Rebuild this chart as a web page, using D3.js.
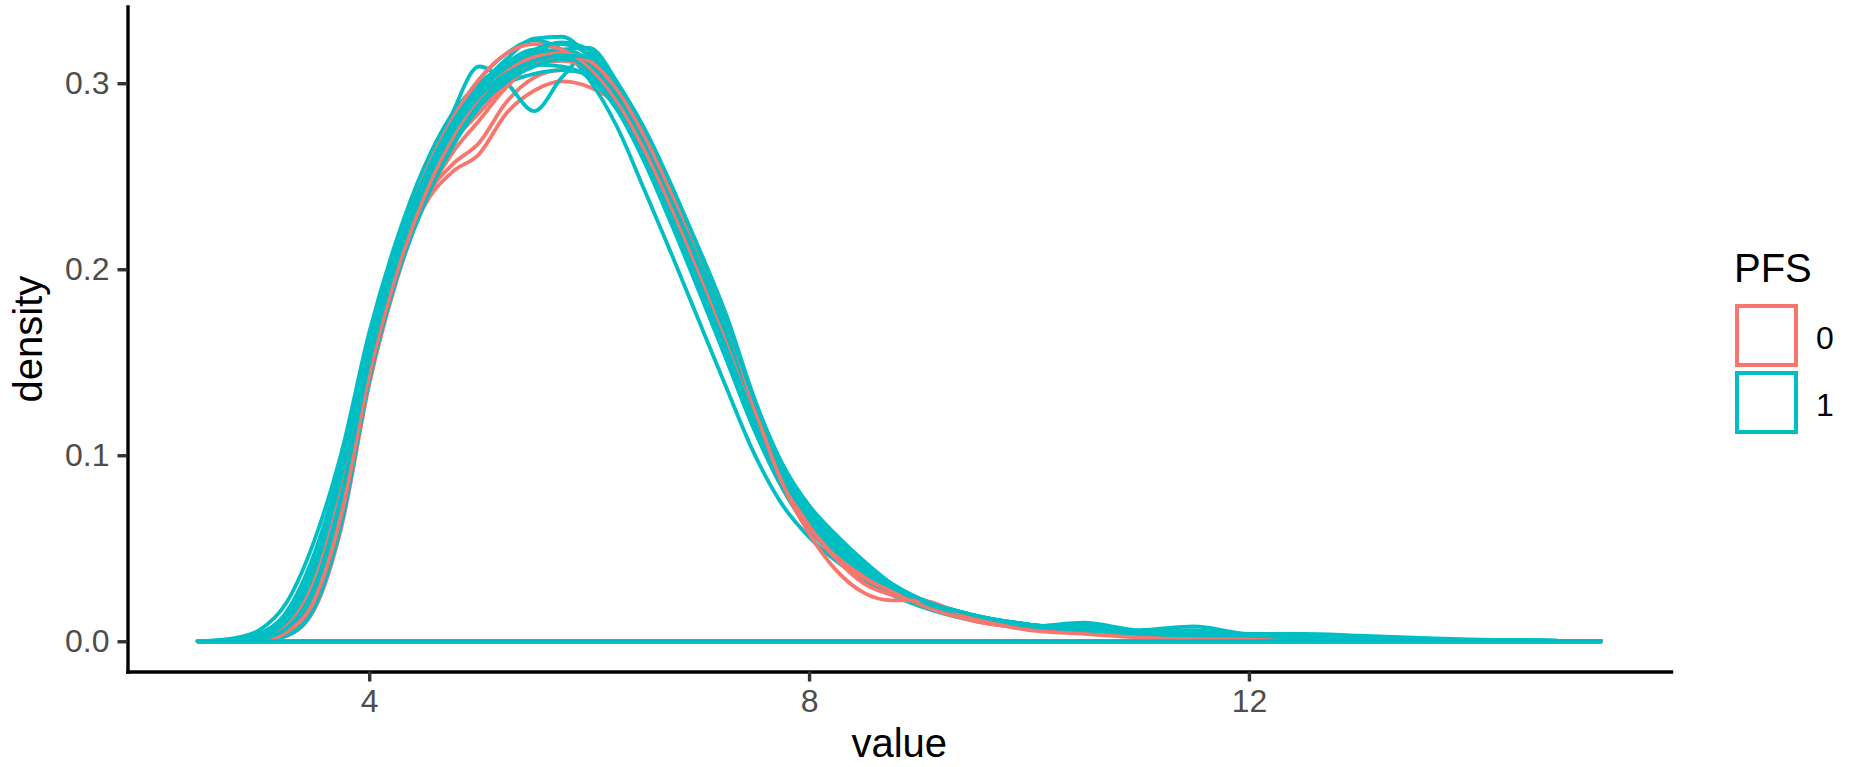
<!DOCTYPE html>
<html>
<head>
<meta charset="utf-8">
<script src="https://cdn.jsdelivr.net/npm/d3@7"></script>
<style>
  body { margin: 0; background: #ffffff; }
  svg { display: block; font-family: "Liberation Sans", Arial, Helvetica, sans-serif; }
</style>
</head>
<body>
<svg></svg>
<script>
const xGrid = [2.44, 2.8, 3.0, 3.25, 3.5, 3.75, 4.0, 4.25, 4.5, 4.75, 5.0, 5.25, 5.5, 5.75, 6.0, 6.25, 6.5, 6.75, 7.0, 7.25, 7.5, 7.75, 8.0, 8.25, 8.5, 8.75, 9.0, 9.5, 10.0, 10.5, 11.0, 11.5, 12.0, 12.5, 13.0, 13.5, 14.0, 15.2];

// PFS of each sample, drawn in this order
const groups = ['0', '0', '0', '1', '0', '1', '1', '1', '1', '1', '1', '0', '1', '1', '0', '1', '1', '1', '1', '0', '1', '1', '0', '1'];

const densities = [
  [0, 0, 0.0005, 0.007, 0.029, 0.078, 0.149, 0.203, 0.243, 0.268, 0.284, 0.300, 0.311, 0.316, 0.312, 0.296, 0.270, 0.238, 0.204, 0.168, 0.128, 0.092, 0.065, 0.047, 0.036, 0.029, 0.023, 0.013, 0.008, 0.005, 0.003, 0.002, 0.001, 0.001, 0.0005, 0, 0, 0],
  [0, 0, 0, 0.004, 0.021, 0.067, 0.142, 0.197, 0.238, 0.266, 0.288, 0.303, 0.312, 0.314, 0.309, 0.294, 0.269, 0.239, 0.206, 0.170, 0.128, 0.091, 0.064, 0.045, 0.033, 0.026, 0.021, 0.012, 0.007, 0.005, 0.003, 0.002, 0.001, 0.001, 0, 0, 0, 0],
  [0, 0, 0, 0.004, 0.020, 0.066, 0.141, 0.196, 0.234, 0.252, 0.262, 0.284, 0.296, 0.301, 0.298, 0.289, 0.270, 0.240, 0.206, 0.170, 0.128, 0.091, 0.064, 0.046, 0.034, 0.027, 0.021, 0.012, 0.007, 0.005, 0.003, 0.002, 0.001, 0.001, 0.0005, 0, 0, 0],
  [0, 0.002, 0.006, 0.021, 0.054, 0.102, 0.166, 0.216, 0.255, 0.283, 0.300, 0.310, 0.316, 0.318, 0.312, 0.292, 0.262, 0.228, 0.190, 0.152, 0.114, 0.083, 0.060, 0.045, 0.034, 0.026, 0.020, 0.012, 0.007, 0.005, 0.004, 0.003, 0.002, 0.0015, 0.001, 0.0008, 0.0005, 0],
  [0, 0, 0, 0.005, 0.023, 0.070, 0.144, 0.199, 0.237, 0.256, 0.268, 0.290, 0.303, 0.307, 0.305, 0.294, 0.273, 0.243, 0.209, 0.172, 0.130, 0.094, 0.067, 0.048, 0.036, 0.028, 0.022, 0.012, 0.008, 0.005, 0.003, 0.002, 0.001, 0.0005, 0, 0, 0, 0],
  [0, 0.001, 0.004, 0.016, 0.047, 0.096, 0.160, 0.212, 0.250, 0.279, 0.298, 0.308, 0.314, 0.316, 0.311, 0.294, 0.266, 0.232, 0.195, 0.157, 0.118, 0.087, 0.063, 0.047, 0.036, 0.028, 0.021, 0.013, 0.008, 0.006, 0.004, 0.003, 0.002, 0.002, 0.001, 0.001, 0.0005, 0],
  [0, 0, 0.002, 0.010, 0.035, 0.085, 0.152, 0.205, 0.247, 0.283, 0.309, 0.300, 0.285, 0.303, 0.316, 0.300, 0.270, 0.236, 0.198, 0.160, 0.121, 0.089, 0.065, 0.048, 0.036, 0.027, 0.020, 0.012, 0.008, 0.009, 0.005, 0.004, 0.002, 0.002, 0.001, 0.001, 0.0005, 0],
  [0, 0, 0.001, 0.008, 0.030, 0.080, 0.150, 0.207, 0.249, 0.280, 0.302, 0.316, 0.323, 0.318, 0.302, 0.277, 0.243, 0.208, 0.172, 0.136, 0.101, 0.074, 0.056, 0.043, 0.033, 0.025, 0.019, 0.011, 0.007, 0.005, 0.004, 0.005, 0.003, 0.002, 0.001, 0.001, 0.0005, 0],
  [0, 0, 0.001, 0.006, 0.026, 0.074, 0.146, 0.202, 0.244, 0.276, 0.298, 0.313, 0.324, 0.325, 0.314, 0.294, 0.270, 0.240, 0.208, 0.170, 0.128, 0.093, 0.070, 0.054, 0.040, 0.029, 0.021, 0.012, 0.008, 0.006, 0.004, 0.003, 0.002, 0.0015, 0.001, 0.0008, 0.0004, 0],
  [0, 0, 0.002, 0.012, 0.038, 0.088, 0.157, 0.208, 0.246, 0.274, 0.293, 0.305, 0.311, 0.313, 0.308, 0.290, 0.262, 0.228, 0.192, 0.155, 0.117, 0.088, 0.066, 0.050, 0.038, 0.029, 0.021, 0.013, 0.009, 0.007, 0.005, 0.006, 0.003, 0.003, 0.002, 0.001, 0.0006, 0],
  [0, 0, 0.001, 0.007, 0.028, 0.078, 0.150, 0.204, 0.243, 0.272, 0.290, 0.300, 0.305, 0.307, 0.305, 0.292, 0.267, 0.235, 0.199, 0.162, 0.124, 0.092, 0.069, 0.052, 0.039, 0.030, 0.023, 0.014, 0.009, 0.006, 0.004, 0.004, 0.003, 0.002, 0.002, 0.001, 0.0005, 0],
  [0, 0, 0.0005, 0.006, 0.026, 0.074, 0.147, 0.202, 0.244, 0.276, 0.297, 0.309, 0.314, 0.313, 0.307, 0.291, 0.266, 0.236, 0.203, 0.166, 0.126, 0.090, 0.062, 0.044, 0.031, 0.025, 0.022, 0.013, 0.008, 0.005, 0.004, 0.003, 0.002, 0.001, 0.0005, 0, 0, 0],
  [0, 0, 0, 0.004, 0.020, 0.068, 0.143, 0.198, 0.238, 0.268, 0.289, 0.303, 0.311, 0.316, 0.313, 0.297, 0.271, 0.239, 0.205, 0.168, 0.129, 0.096, 0.072, 0.055, 0.040, 0.028, 0.020, 0.013, 0.008, 0.010, 0.006, 0.008, 0.004, 0.004, 0.003, 0.002, 0.001, 0],
  [0, 0, 0.001, 0.005, 0.024, 0.072, 0.146, 0.200, 0.240, 0.270, 0.291, 0.304, 0.312, 0.318, 0.319, 0.301, 0.274, 0.240, 0.204, 0.166, 0.126, 0.094, 0.070, 0.053, 0.039, 0.029, 0.022, 0.013, 0.008, 0.006, 0.005, 0.004, 0.003, 0.002, 0.0015, 0.001, 0.0005, 0],
  [0, 0, 0, 0.003, 0.017, 0.062, 0.138, 0.194, 0.236, 0.262, 0.280, 0.298, 0.310, 0.312, 0.308, 0.296, 0.271, 0.238, 0.202, 0.164, 0.124, 0.089, 0.063, 0.046, 0.035, 0.028, 0.020, 0.011, 0.007, 0.005, 0.003, 0.002, 0.001, 0.001, 0, 0, 0, 0],
  [0, 0.0005, 0.003, 0.014, 0.043, 0.093, 0.160, 0.211, 0.249, 0.278, 0.297, 0.307, 0.310, 0.309, 0.303, 0.286, 0.258, 0.224, 0.188, 0.151, 0.114, 0.085, 0.063, 0.048, 0.037, 0.028, 0.021, 0.013, 0.008, 0.006, 0.005, 0.004, 0.003, 0.002, 0.002, 0.001, 0.0005, 0],
  [0, 0, 0.001, 0.009, 0.033, 0.083, 0.153, 0.206, 0.247, 0.277, 0.297, 0.309, 0.317, 0.321, 0.315, 0.296, 0.268, 0.234, 0.197, 0.160, 0.121, 0.090, 0.067, 0.051, 0.039, 0.030, 0.022, 0.013, 0.009, 0.006, 0.004, 0.003, 0.003, 0.002, 0.001, 0.001, 0.0004, 0],
  [0, 0, 0, 0.003, 0.018, 0.064, 0.140, 0.195, 0.235, 0.265, 0.287, 0.301, 0.309, 0.313, 0.311, 0.298, 0.275, 0.244, 0.211, 0.175, 0.131, 0.096, 0.073, 0.057, 0.043, 0.031, 0.023, 0.014, 0.009, 0.006, 0.005, 0.004, 0.003, 0.002, 0.002, 0.001, 0.0005, 0],
  [0, 0, 0.001, 0.010, 0.036, 0.086, 0.154, 0.207, 0.247, 0.276, 0.296, 0.308, 0.315, 0.317, 0.310, 0.293, 0.266, 0.233, 0.197, 0.161, 0.123, 0.091, 0.068, 0.052, 0.040, 0.030, 0.023, 0.014, 0.009, 0.007, 0.005, 0.004, 0.003, 0.002, 0.001, 0.001, 0.0005, 0],
  [0, 0, 0.001, 0.008, 0.032, 0.082, 0.152, 0.207, 0.250, 0.280, 0.302, 0.316, 0.321, 0.318, 0.308, 0.290, 0.264, 0.232, 0.197, 0.161, 0.122, 0.088, 0.062, 0.045, 0.034, 0.027, 0.021, 0.011, 0.007, 0.005, 0.003, 0.002, 0.001, 0.001, 0.0005, 0, 0, 0],
  [0, 0, 0.0005, 0.006, 0.027, 0.076, 0.148, 0.203, 0.244, 0.274, 0.295, 0.309, 0.318, 0.322, 0.318, 0.300, 0.272, 0.238, 0.202, 0.165, 0.126, 0.093, 0.069, 0.053, 0.040, 0.030, 0.022, 0.013, 0.008, 0.006, 0.004, 0.004, 0.003, 0.002, 0.0015, 0.001, 0.0005, 0],
  [0, 0.0005, 0.002, 0.012, 0.040, 0.090, 0.158, 0.210, 0.249, 0.278, 0.298, 0.311, 0.318, 0.316, 0.306, 0.287, 0.260, 0.228, 0.193, 0.157, 0.120, 0.089, 0.066, 0.050, 0.038, 0.029, 0.022, 0.013, 0.008, 0.006, 0.004, 0.003, 0.002, 0.002, 0.001, 0.001, 0.0004, 0],
  [0, 0, 0, 0.005, 0.022, 0.069, 0.143, 0.198, 0.239, 0.270, 0.292, 0.306, 0.314, 0.316, 0.312, 0.297, 0.272, 0.241, 0.209, 0.172, 0.126, 0.086, 0.058, 0.038, 0.026, 0.022, 0.022, 0.012, 0.006, 0.004, 0.002, 0.001, 0.001, 0.0005, 0, 0, 0, 0],
  [0, 0, 0.001, 0.007, 0.029, 0.079, 0.150, 0.204, 0.244, 0.273, 0.293, 0.305, 0.312, 0.315, 0.314, 0.300, 0.276, 0.245, 0.210, 0.172, 0.130, 0.095, 0.071, 0.054, 0.041, 0.031, 0.023, 0.014, 0.009, 0.006, 0.005, 0.004, 0.003, 0.002, 0.002, 0.001, 0.0005, 0]
];

const legendLabels = ['0', '1'];
const yTicks = [0, 0.1, 0.2, 0.3];
const xTicks = [4, 8, 12];

const width = 1849, height = 767;
const colors = {'0': '#F8766D', '1': '#00BFC4'};
const panel = {left: 127.5, right: 1671, top: 6.5, bottom: 671.5};

let svg = d3.select('svg')
  .attr('width', width)
  .attr('height', height);

let xMin = d3.min(xGrid), xMax = d3.max(xGrid);
let xPad = (xMax - xMin) * 0.05;
let yMax = d3.max(densities, d => d3.max(d));
let yPad = yMax * 0.05;

let x = d3.scaleLinear().domain([xMin - xPad, xMax + xPad]).range([panel.left, panel.right]);
let y = d3.scaleLinear().domain([-yPad, yMax + yPad]).range([panel.bottom, panel.top]);

let area = d3.area()
  .x(d => x(d[0]))
  .y0(y(0))
  .y1(d => y(d[1]))
  .curve(d3.curveMonotoneX);

densities.forEach((vals, i) => {
  let pts = xGrid.map((gx, j) => [gx, vals[j]]);
  svg.append('path')
    .attr('d', area(pts))
    .attr('fill', 'none')
    .attr('stroke', colors[groups[i]])
    .attr('stroke-width', 3.8)
    .attr('stroke-linejoin', 'round');
});

let yAxis = svg.append('g')
  .attr('transform', `translate(${panel.left},0)`)
  .call(d3.axisLeft(y).tickValues(yTicks).tickFormat(d3.format('.1f')).tickSize(10).tickSizeOuter(0).tickPadding(8));

let xAxis = svg.append('g')
  .attr('transform', `translate(0,${panel.bottom})`)
  .call(d3.axisBottom(x).tickValues(xTicks).tickSize(10).tickSizeOuter(0).tickPadding(8));

[yAxis, xAxis].forEach(g => {
  g.select('.domain').attr('stroke', '#000000').attr('stroke-width', 3.4).attr('stroke-linecap', 'square');
  g.selectAll('.tick line').attr('stroke', '#333333').attr('stroke-width', 3.4);
  g.selectAll('.tick text')
    .attr('fill', '#4D4D4D')
    .style('font-size', '32px')
    .style('font-family', '"Liberation Sans", Arial, sans-serif');
});

svg.append('text')
  .attr('x', (panel.left + panel.right) / 2)
  .attr('y', 757)
  .attr('text-anchor', 'middle')
  .style('font-size', '40px')
  .text('value');

svg.append('text')
  .attr('transform', `translate(42,${(panel.top + panel.bottom) / 2}) rotate(-90)`)
  .attr('text-anchor', 'middle')
  .style('font-size', '40px')
  .text('density');

// legend
let legend = svg.append('g');
legend.append('text')
  .attr('x', 1734)
  .attr('y', 282)
  .style('font-size', '40px')
  .text('PFS');

legendLabels.forEach((lab, i) => {
  legend.append('rect')
    .attr('x', 1737)
    .attr('y', 306 + i * 67)
    .attr('width', 59)
    .attr('height', 59)
    .attr('fill', 'none')
    .attr('stroke', colors[lab])
    .attr('stroke-width', 4);
  legend.append('text')
    .attr('x', 1816)
    .attr('y', 349 + i * 67)
    .style('font-size', '32px')
    .text(lab);
});
</script>
</body>
</html>
